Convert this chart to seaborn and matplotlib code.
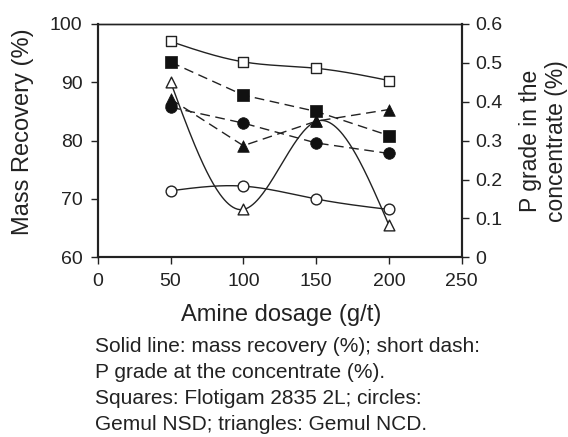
import numpy as np
import pandas as pd
import matplotlib
matplotlib.use('Agg')
import matplotlib.pyplot as plt
import seaborn as sns

# data
dosage = [50, 100, 150, 200]

# mass recovery (%), left axis, solid lines with open markers
rec_flotigam = [97.0, 93.5, 92.4, 90.3]
rec_nsd = [71.4, 72.2, 70.0, 68.2]
rec_ncd = [90.1, 68.2, 83.3, 65.5]

# P grade in the concentrate (%), right axis, dashed lines with filled markers
grade_flotigam = [0.502, 0.417, 0.375, 0.313]
grade_nsd = [0.386, 0.345, 0.294, 0.267]
grade_ncd = [0.407, 0.287, 0.350, 0.380]

caption = ['Solid line: mass recovery (%); short dash:',
           'P grade at the concentrate (%).',
           'Squares: Flotigam 2835 2L; circles:',
           'Gemul NSD; triangles: Gemul NCD.']


def smooth(x, y, n=200):
    # natural cubic spline through the points, only used to draw the curve
    x = np.asarray(x, float)
    y = np.asarray(y, float)
    k = len(x)
    h = np.diff(x)
    A = np.zeros((k, k))
    b = np.zeros(k)
    A[0, 0] = A[-1, -1] = 1
    for i in range(1, k - 1):
        A[i, i - 1] = h[i - 1]
        A[i, i] = 2 * (h[i - 1] + h[i])
        A[i, i + 1] = h[i]
        b[i] = 6 * ((y[i + 1] - y[i]) / h[i] - (y[i] - y[i - 1]) / h[i - 1])
    M = np.linalg.solve(A, b)
    xs = np.linspace(x[0], x[-1], n)
    idx = np.clip(np.searchsorted(x, xs) - 1, 0, k - 2)
    x0, x1 = x[idx], x[idx + 1]
    hh = x1 - x0
    ys = (M[idx] * (x1 - xs) ** 3 / (6 * hh) + M[idx + 1] * (xs - x0) ** 3 / (6 * hh)
          + (y[idx] / hh - M[idx] * hh / 6) * (x1 - xs)
          + (y[idx + 1] / hh - M[idx + 1] * hh / 6) * (xs - x0))
    return xs, ys


sns.set_theme(style='ticks')
plt.rcParams['font.family'] = ['Liberation Sans', 'DejaVu Sans']
ink = '#222222'

fig = plt.figure(figsize=(5.68, 4.37), dpi=100)
ax = fig.add_axes([0.172, 0.4112, 0.641, 0.534])
ax2 = ax.twinx()

# solid smoothed lines, left axis
for vals, mk in [(rec_flotigam, 's'), (rec_nsd, 'o'), (rec_ncd, '^')]:
    xs, ys = smooth(dosage, vals)
    sns.lineplot(x=xs, y=ys, ax=ax, color=ink, linewidth=1.0, estimator=None)
    sns.scatterplot(x=dosage, y=vals, ax=ax, marker=mk, s=60, facecolor='white',
                    edgecolor=ink, linewidth=1.0, zorder=5)

# dashed lines, right axis
for vals, mk in [(grade_flotigam, 's'), (grade_nsd, 'o'), (grade_ncd, '^')]:
    df = pd.DataFrame({'x': dosage, 'y': vals})
    sns.lineplot(data=df, x='x', y='y', ax=ax2, color=ink, linewidth=1.0,
                 dashes=False, estimator=None, linestyle=(0, (7, 4)))
    sns.scatterplot(data=df, x='x', y='y', ax=ax2, marker=mk, s=70, color='#111111',
                    edgecolor='#111111', linewidth=0.5, zorder=5)

ax.set_xlim(0, 250)
ax.set_ylim(60, 100)
ax2.set_ylim(0, 0.6)
ax.set_xticks([0, 50, 100, 150, 200, 250])
ax.set_yticks([60, 70, 80, 90, 100])
ax2.set_yticks([0, 0.1, 0.2, 0.3, 0.4, 0.5, 0.6])
ax2.set_yticklabels(['0', '0.1', '0.2', '0.3', '0.4', '0.5', '0.6'])

for a in (ax, ax2):
    a.tick_params(labelsize=14, length=5, width=1, colors=ink, labelcolor=ink)
    for s in a.spines.values():
        s.set_color(ink)
        s.set_linewidth(1.5)
    a.spines['top'].set_linewidth(1.0)
ax.tick_params(axis='x', pad=6)
ax.tick_params(axis='y', pad=6)
ax2.tick_params(axis='y', pad=5)

ax.set_xlabel('Amine dosage (g/t)', fontsize=17, color=ink, va='baseline')
ax.xaxis.set_label_coords(0.503, -0.272)
ax.set_ylabel('Mass Recovery (%)', fontsize=17, color=ink, va='center')
ax.yaxis.set_label_coords(-0.204, 0.538)
ax2.set_ylabel('P grade in the\nconcentrate (%)', fontsize=16.5, color=ink,
               va='center', linespacing=1.15)
ax2.yaxis.set_label_coords(1.225, 0.5)

ys_cap = [0.1945, 0.135, 0.0755, 0.016]
for t, y in zip(caption, ys_cap):
    fig.text(0.167, y, t, fontsize=15, color=ink, va='baseline', ha='left')

fig.savefig('out.png', dpi=100)
